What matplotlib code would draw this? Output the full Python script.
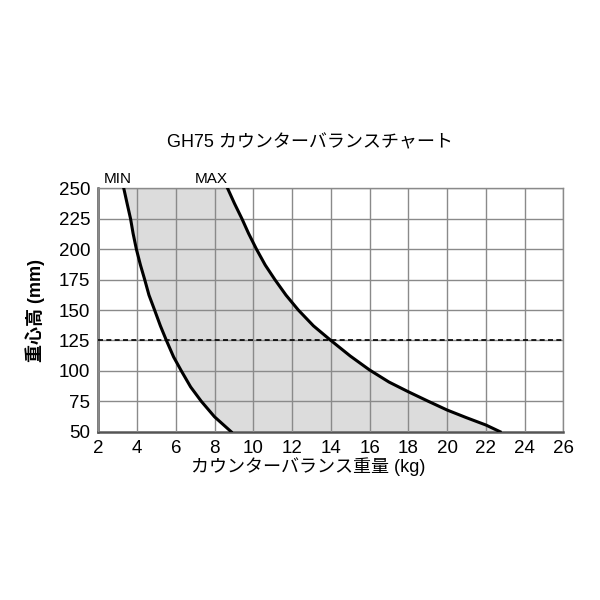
import matplotlib.pyplot as plt

plt.rcParams['font.family'] = ['Liberation Sans', 'Noto Sans CJK JP', 'DejaVu Sans']

# curve points (counterbalance weight kg, centre height mm)
min_x = [3.31, 3.48, 3.66, 3.79, 3.96, 4.17, 4.39, 4.61, 4.90, 5.20, 5.51,
         5.88, 6.28, 6.76, 7.31, 7.99, 8.85]
min_y = [250, 237.7, 225, 213, 200, 187, 175, 162.3, 150, 137, 125,
         111.5, 100, 86.8, 75, 62.3, 50]
max_x = [8.67, 9.02, 9.41, 9.75, 10.16, 10.61, 11.11, 11.68, 12.32, 13.10, 14.0,
         15.0, 16.0, 17.0, 18.0, 19.0, 20.0, 21.0, 22.0, 22.73]
max_y = [250, 237.7, 225, 213, 200, 187, 175, 162.3, 150, 137, 125,
         112.2, 100.7, 90.8, 82.8, 75.2, 67.8, 61.5, 55.5, 50]

limit_y = 125
x_ticks = list(range(2, 27, 2))
y_ticks = list(range(50, 251, 25))

fig = plt.figure(figsize=(6, 6), dpi=100)
ax = fig.add_axes([0.164, 0.2805, 0.775, 0.4055])

# shaded band between MIN and MAX
ax.fill(min_x + max_x[::-1], min_y + max_y[::-1], color='#dcdcdc', zorder=1, lw=0)

ax.set_xlim(2, 26)
ax.set_ylim(50, 250)
ax.set_xticks(x_ticks)
ax.set_yticks(y_ticks)
ax.grid(True, color='#8a8a8a', lw=1.0, zorder=2)
ax.set_axisbelow(False)

ax.plot(min_x, min_y, color='black', lw=2.2, zorder=4, solid_joinstyle='round')
ax.plot(max_x, max_y, color='black', lw=2.2, zorder=4, solid_joinstyle='round')
ax.axhline(limit_y, color='black', lw=1.2, ls=(0, (3, 2)), zorder=3)

for s in ['top', 'right']:
    ax.spines[s].set_color('#8a8a8a')
    ax.spines[s].set_linewidth(1.0)
for s in ['left', 'bottom']:
    ax.spines[s].set_color('#555555')
    ax.spines[s].set_linewidth(1.8)

ax.tick_params(length=0, labelsize=13.5, pad=6)

fig.text(310 / 600, 1 - 143 / 600, 'GH75 カウンターバランスチャート',
         ha='center', va='center', fontsize=13)
ax.text(3.0, 252, 'MIN', ha='center', va='bottom', fontsize=11)
ax.text(7.8, 252, 'MAX', ha='center', va='bottom', fontsize=11)
fig.text(308 / 600, 1 - 467 / 600, 'カウンターバランス重量 (kg)',
         ha='center', va='center', fontsize=13)
fig.text(35 / 600, 1 - 310 / 600, '重心高 (mm)', rotation=90,
         ha='center', va='center', fontsize=13, fontweight='bold')

fig.savefig('out.png', dpi=100)
